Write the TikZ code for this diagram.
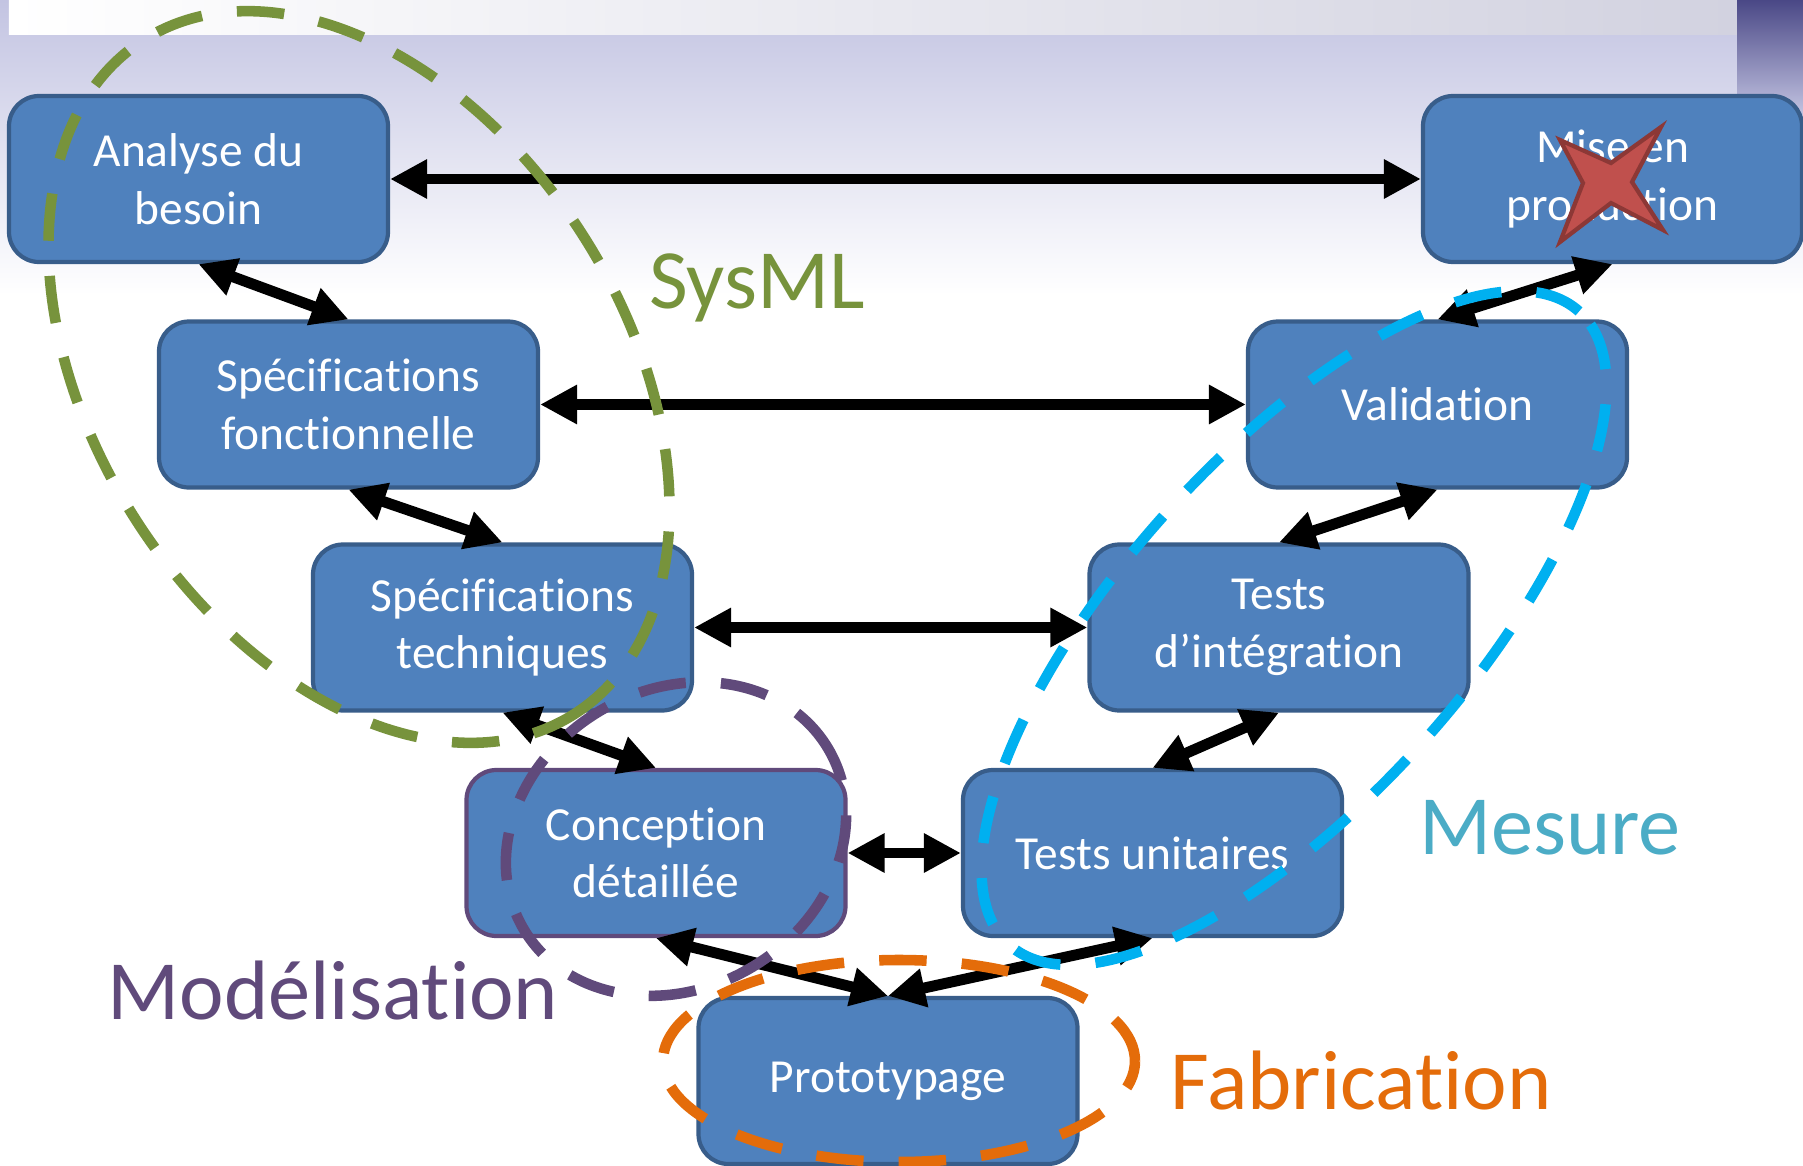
\documentclass[tikz,border=0pt]{standalone}
\usepackage{fontspec}
\setmainfont{Carlito}[Ligatures=NoCommon]
\usepackage{xcolor}
\usepackage{tikz}
\usetikzlibrary{arrows.meta}
\definecolor{boxfill}{HTML}{4F81BD}
\definecolor{boxline}{HTML}{385D8A}
\definecolor{sysmlgreen}{HTML}{77933C}
\definecolor{modpurple}{HTML}{604A7B}
\definecolor{faborange}{HTML}{E46C0A}
\definecolor{mesblue}{HTML}{00B0F0}
\definecolor{mestext}{HTML}{4BACC6}
\definecolor{crossred}{HTML}{C0504D}
\definecolor{crossline}{HTML}{8C3836}
\definecolor{skyblue}{HTML}{C3C4E2}
\definecolor{stripgrey}{HTML}{D2D2E0}
\definecolor{cornerblue}{HTML}{4A4886}

\begin{document}
\begin{tikzpicture}[
  etape/.style={draw=boxline,fill=boxfill,line width=1.2pt,rounded corners=0.3cm,minimum width=3.79cm,minimum height=1.66cm,text=white,align=center,font=\fontsize{13.5}{16.4}\selectfont},
  lien/.style={line width=3.1pt,{Triangle[length=3.7mm,width=3.7mm]}-{Triangle[length=3.7mm,width=3.7mm]}},
  zone/.style={line width=3pt,dash pattern=on 13.5pt off 10pt},
  titre/.style={font=\fontsize{24}{29}\selectfont}]
\useasboundingbox (0,0) rectangle (18.03,11.65);
\fill[white] (0,0) rectangle (18.03,11.65);
\shade[top color=skyblue,bottom color=white] (0,8.7) rectangle (18.03,11.65);
\shade[left color=white,right color=stripgrey] (0.09,11.30) rectangle (17.37,11.65);
\shade[top color=cornerblue,bottom color=skyblue] (17.37,10.5) rectangle (18.03,11.65);

\node[etape] (analyse) at (1.985,9.86) {Analyse du\\besoin};
\node[etape] (prod) at (16.125,9.86) {Mise en\\production};
\node[etape] (specf) at (3.485,7.605) {Spécifications\\fonctionnelle};
\node[etape] (valid) at (14.375,7.605) {Validation};
\node[etape] (spect) at (5.025,5.375) {Spécifications\\techniques};
\node[etape] (integ) at (12.79,5.375) {Tests\\d’intégration};
\node[etape,draw=modpurple] (concep) at (6.56,3.12) {Conception\\détaillée};
\node[etape] (unit) at (11.525,3.12) {Tests unitaires};
\node[etape] (proto) at (8.88,0.84) {Prototypage};

\draw[lien] (analyse) -- (prod);
\draw[lien] (specf) -- (valid);
\draw[lien] (spect) -- (integ);
\draw[lien] (concep) -- (unit);
\draw[lien] (analyse.south) -- (specf.north);
\draw[lien] (specf.south) -- (spect.north);
\draw[lien] (spect.south) -- (concep.north);
\draw[lien] (concep.south) -- (proto.north);
\draw[lien] (unit.south) -- (proto.north);
\draw[lien] (integ.south) -- (unit.north);
\draw[lien] (valid.south) -- (integ.north);
\draw[lien] (prod.south) -- (valid.north);

\draw[zone,sysmlgreen,rotate around={-57.3:(3.59,7.88)}] (3.59,7.88) ellipse (4.00 and 2.65);
\draw[zone,modpurple,rotate around={30.8:(6.76,3.26)}] (6.76,3.26) ellipse (1.77 and 1.49);
\draw[zone,faborange] (8.99,1.04) ellipse (2.36 and 1.01);
\draw[zone,mesblue,rotate around={48:(12.94,5.37)}] (12.94,5.37) ellipse (4.26 and 1.72);

\draw[fill=crossred,draw=crossline,line width=1.2pt] (15.60,10.25) -- (16.11,10.02) -- (16.61,10.38) -- (16.32,9.83) -- (16.63,9.35) -- (16.11,9.62) -- (15.60,9.23) -- (15.83,9.82) -- cycle;

\node[titre,text=sysmlgreen] (sysml) at (7.57,8.77) {SysML};
\node[titre,text=mestext] (mesure) at (15.50,3.37) {Mesure};
\node[titre,text=modpurple] (model) at (3.33,1.74) {Modélisation};
\node[titre,text=faborange] (fabri) at (13.61,0.84) {Fabrication};
\end{tikzpicture}
\end{document}
